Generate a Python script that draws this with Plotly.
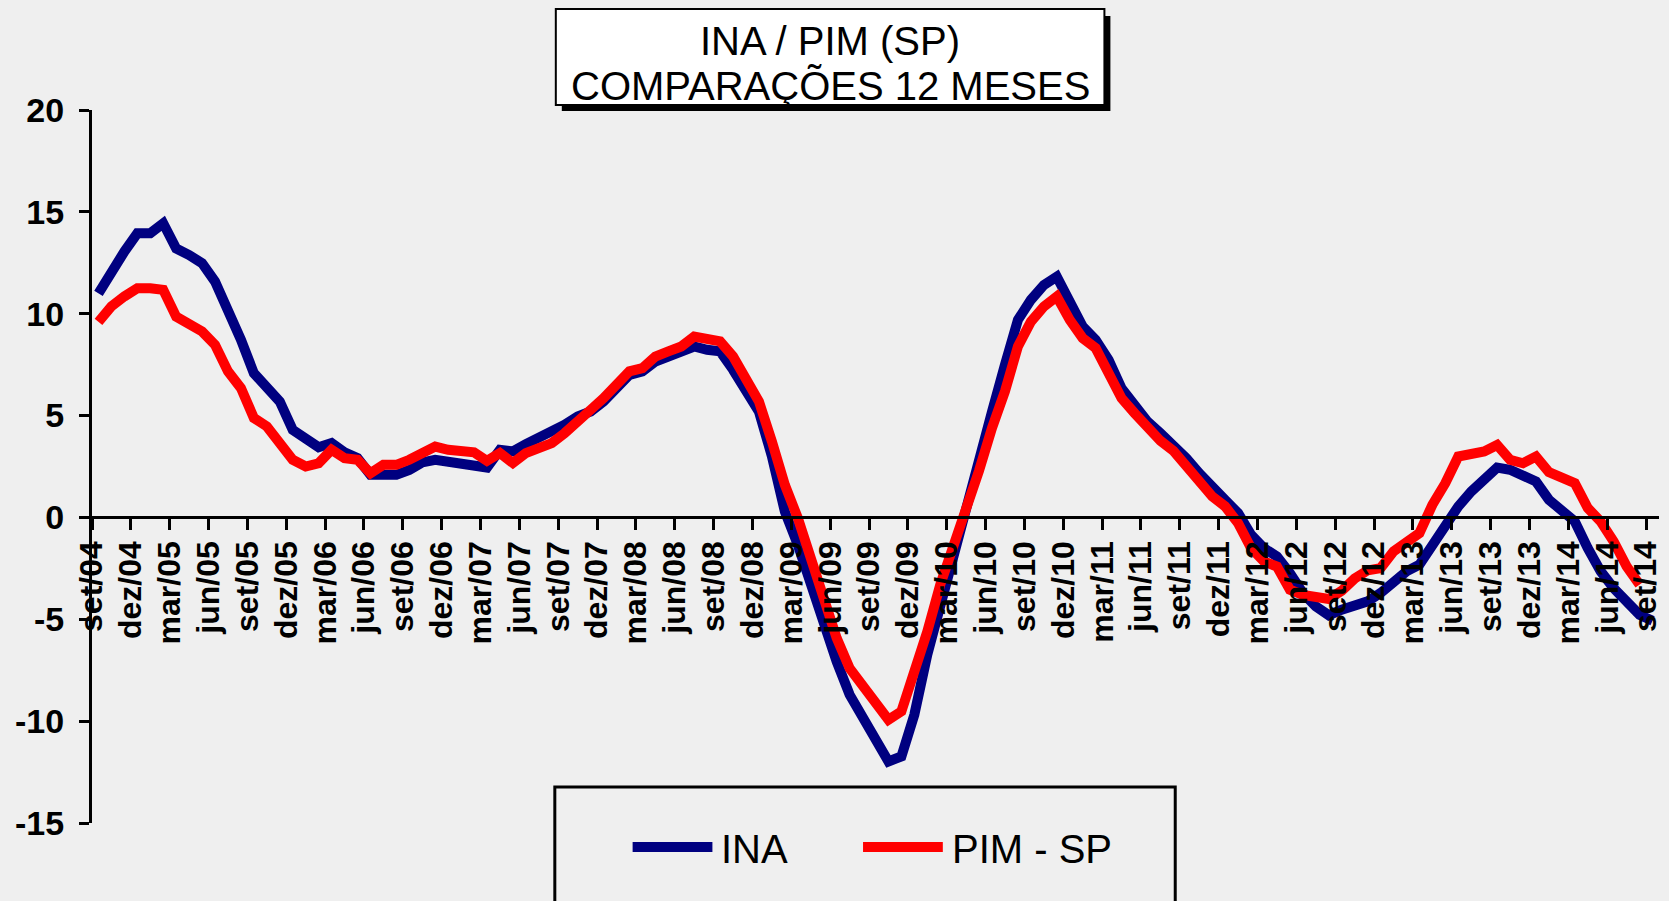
import plotly.graph_objects as go

# ---- data (monthly, set/04 onwards) ----
tick_labels = ["set/04", "dez/04", "mar/05", "jun/05", "set/05", "dez/05", "mar/06", "jun/06",
               "set/06", "dez/06", "mar/07", "jun/07", "set/07", "dez/07", "mar/08", "jun/08",
               "set/08", "dez/08", "mar/09", "jun/09", "set/09", "dez/09", "mar/10", "jun/10",
               "set/10", "dez/10", "mar/11", "jun/11", "set/11", "dez/11", "mar/12", "jun/12",
               "set/12", "dez/12", "mar/13", "jun/13", "set/13", "dez/13", "mar/14", "jun/14",
               "set/14"]

y_tick_vals = [-15, -10, -5, 0, 5, 10, 15, 20]
y_tick_text = ["-15", "-10", "-5", "0", "5", "10", "15", "20"]

ina = [11.0, 12.15, 13.05, 13.95, 13.95, 14.44, 13.2, 12.88, 12.48, 11.58,
       10.2, 8.72, 7.08, 6.35, 5.69, 4.3, 3.9, 3.45, 3.65, 3.2,
       2.91, 2.09, 2.09, 2.09, 2.33, 2.7, 2.83, 2.75, 2.7, 2.62,
       2.45, 3.32, 3.24, 3.6, 3.89, 4.14, 4.55, 4.96, 5.2, 5.69,
       6.43, 7.0, 7.17, 7.65, 7.9, 8.15, 8.39, 8.23, 8.15, 7.25,
       6.3, 5.2, 3.0, 0.29, -1.34, -3.3, -5.27, -7.07, -8.7, -9.85,
       -10.83, -11.98, -11.73, -9.68, -6.74, -4.29, -1.67, 0.6, 2.9, 5.2,
       7.5, 9.7, 10.68, 11.41, 11.82, 10.6, 9.37, 8.72, 7.73, 6.34,
       5.44, 4.71, 4.14, 3.56, 2.91, 2.17, 1.44, 0.86, 0.21, -0.85,
       -1.51, -1.92, -2.73, -3.71, -4.37, -4.8, -4.53, -4.29, -4.12, -3.71,
       -3.14, -2.65, -2.32, -1.34, -0.53, 0.54, 1.27, 1.93, 2.45, 2.34,
       2.01, 1.76, 0.87, 0.37, -0.2, -1.51, -2.65, -3.47, -4.2, -4.78,
       -5.07]

pim_sp = [9.6, 10.36, 10.85, 11.25, 11.25, 11.17, 9.86, 9.54, 9.13, 8.47,
          7.17, 6.35, 4.88, 4.47, 3.57, 2.83, 2.5, 2.66, 3.32, 2.91,
          2.83, 2.17, 2.58, 2.58, 2.83, 3.2, 3.48, 3.32, 3.32, 3.2,
          2.78, 3.16, 2.67, 3.16, 3.4, 3.65, 4.14, 4.79, 5.28, 5.85,
          6.59, 7.17, 7.33, 7.9, 8.15, 8.39, 8.88, 8.72, 8.64, 7.9,
          6.9, 5.69, 3.73, 1.6, -0.03, -2.0, -4.29, -5.92, -7.4, -8.29,
          -9.03, -9.93, -9.52, -7.72, -5.6, -3.3, -1.5, 0.3, 2.3, 4.4,
          6.2, 8.4, 9.61, 10.35, 10.84, 9.7, 8.8, 8.31, 7.16, 5.85,
          5.12, 4.38, 3.76, 3.27, 2.5, 1.76, 1.03, 0.54, -0.28, -1.5,
          -2.16, -2.41, -3.55, -3.8, -3.96, -4.0, -3.6, -3.0, -2.6, -2.49,
          -1.67, -1.18, -0.77, 0.62, 1.68, 2.99, 3.15, 3.24, 3.56, 2.83,
          2.66, 2.99, 2.22, 2.01, 1.68, 0.46, -0.2, -1.18, -2.4, -3.3]

series_names = ["INA", "PIM - SP"]
series_colors = ["#000080", "#FF0000"]
title_lines = ["INA / PIM (SP)", "COMPARAÇÕES 12 MESES"]

# ---- layout geometry (pixels) ----
W, H = 1669, 901
L, R, T, B = 92, 6, 110, 78
PW, PH = W - L - R, H - T - B


def fx(px):
    return (px - L) / PW


def fy(py):
    return (H - B - py) / PH


FONT = "Liberation Sans, Arial, sans-serif"

fig = go.Figure()
for name, vals, col in zip(series_names, [ina, pim_sp], series_colors):
    fig.add_trace(go.Scatter(
        x=[i + 0.5 for i in range(len(vals))], y=vals, mode="lines", name=name,
        line=dict(color=col, width=10), showlegend=False))

shapes = [
    # title box shadow + box
    dict(type="rect", xref="paper", yref="paper", x0=fx(563), x1=fx(1113), y0=fy(111), y1=fy(16),
         fillcolor="black", line=dict(width=0), layer="above"),
    dict(type="rect", xref="paper", yref="paper", x0=fx(557), x1=fx(1107), y0=fy(105), y1=fy(9),
         fillcolor="white", line=dict(color="black", width=2), layer="above"),
    # legend box
    dict(type="rect", xref="paper", yref="paper", x0=fx(556), x1=fx(1178), y0=fy(910), y1=fy(787),
         fillcolor="rgba(0,0,0,0)", line=dict(color="black", width=3), layer="above"),
    # legend samples
    dict(type="line", xref="paper", yref="paper", x0=fx(634), x1=fx(714), y0=fy(847), y1=fy(847),
         line=dict(color=series_colors[0], width=10), layer="above"),
    dict(type="line", xref="paper", yref="paper", x0=fx(865), x1=fx(945), y0=fy(847), y1=fy(847),
         line=dict(color=series_colors[1], width=10), layer="above"),
]

annotations = [
    dict(text=title_lines[0], xref="paper", yref="paper", x=fx(832), y=fy(41), showarrow=False,
         xanchor="center", yanchor="middle", font=dict(family=FONT, size=40, color="black")),
    dict(text=title_lines[1], xref="paper", yref="paper", x=fx(832), y=fy(86), showarrow=False,
         xanchor="center", yanchor="middle", font=dict(family=FONT, size=40, color="black")),
    dict(text=series_names[0], xref="paper", yref="paper", x=fx(721), y=fy(849), showarrow=False,
         xanchor="left", yanchor="middle", font=dict(family=FONT, size=40, color="black")),
    dict(text=series_names[1], xref="paper", yref="paper", x=fx(952), y=fy(849), showarrow=False,
         xanchor="left", yanchor="middle", font=dict(family=FONT, size=40, color="black")),
]

fig.update_layout(
    width=W, height=H, autosize=False,
    margin=dict(l=L, r=R, t=T, b=B, pad=0),
    paper_bgcolor="#efefef", plot_bgcolor="#efefef",
    shapes=shapes, annotations=annotations,
    xaxis=dict(range=[0, 121], tickmode="array", tickvals=[3 * k for k in range(len(tick_labels))],
               ticktext=tick_labels, tickangle=-90, anchor="free", position=15 / 35,
               showline=True, linecolor="black", linewidth=3, showgrid=False, zeroline=False,
               ticks="outside", ticklen=11, tickwidth=3, tickcolor="black", ticklabelstandoff=-2,
               tickfont=dict(family=FONT, size=32, color="black", weight="bold")),
    yaxis=dict(range=[-15, 20], tickmode="array", tickvals=y_tick_vals, ticktext=y_tick_text,
               showline=True, linecolor="black", linewidth=3, showgrid=False, zeroline=False,
               ticks="outside", ticklen=10, tickwidth=3, tickcolor="black", ticklabelstandoff=8,
               tickfont=dict(family=FONT, size=34, color="black", weight="bold")),
)

fig.write_html("out.html", config={"displayModeBar": False},
               post_script="document.body.style.margin='0';document.body.style.overflow='hidden';")
